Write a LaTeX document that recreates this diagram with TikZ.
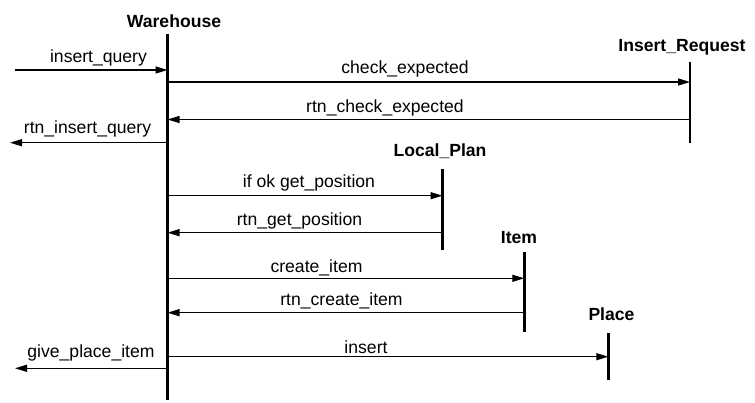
\documentclass[tikz,border=0pt]{standalone}
\usepackage{fontspec}
\setmainfont{Liberation Sans}
\usetikzlibrary{arrows.meta}
\begin{document}
\begin{tikzpicture}[x=1pt,y=-1pt,
  lifeline/.style={line width=2.8pt},
  msg/.style={line width=1.3pt,-{Triangle[length=12pt,width=7pt]}},
  lbl/.style={anchor=base,inner sep=0pt,font=\fontsize{17.6}{20}\selectfont},
  obj/.style={anchor=base,inner sep=0pt,font=\fontsize{17.6}{20}\selectfont\bfseries}]
\useasboundingbox[fill=white] (0,0) rectangle (755,403);

% lifeline ends
\coordinate (Wt) at (167.5,34);  \coordinate (Wb) at (167.5,400);
\coordinate (IRt) at (690,62);   \coordinate (IRb) at (690,143);
\coordinate (LPt) at (442.5,169);\coordinate (LPb) at (442.5,250);
\coordinate (Itt) at (524.3,252);\coordinate (Itb) at (524.3,332);
\coordinate (Plt) at (608.3,333);\coordinate (Plb) at (608.3,380);

% object names
\node[obj] (nW)  at (174,27.3)  {Warehouse};
\node[obj] (nIR) at (682,52)    {Insert\_Request};
\node[obj] (nLP) at (440,156.7) {Local\_Plan};
\node[obj] (nIt) at (519,243.3) {Item};
\node[obj] (nPl) at (611.5,320.7) {Place};

% lifelines
\draw[lifeline] (Wt) -- (Wb);
\draw[lifeline] (IRt) -- (IRb);
\draw[lifeline] (LPt) -- (LPb);
\draw[lifeline] (Itt) -- (Itb);
\draw[lifeline] (Plt) -- (Plb);

% message end points
\coordinate (e1) at (15,70);      \coordinate (w1) at (167.5,70);
\coordinate (w2) at (167.5,82);   \coordinate (r2) at (690,82);
\coordinate (r3) at (690,119.5);  \coordinate (w3) at (167.5,119.5);
\coordinate (w4) at (167.5,142.7);\coordinate (e4) at (10,142.7);
\coordinate (w5) at (167.5,195.7);\coordinate (l5) at (442.5,195.7);
\coordinate (l6) at (442.5,232.7);\coordinate (w6) at (167.5,232.7);
\coordinate (w7) at (167.5,278.3);\coordinate (i7) at (524.3,278.3);
\coordinate (i8) at (524.3,312.7);\coordinate (w8) at (167.5,312.7);
\coordinate (w9) at (167.5,356.7);\coordinate (p9) at (608.3,356.7);
\coordinate (w10) at (167.5,368.3);\coordinate (e10) at (15,368.3);

% messages
\draw[msg] (e1) -- (w1);
\draw[msg] (w2) -- (r2);
\draw[msg] (r3) -- (w3);
\draw[msg] (w4) -- (e4);
\draw[msg] (w5) -- (l5);
\draw[msg] (l6) -- (w6);
\draw[msg] (w7) -- (i7);
\draw[msg] (i8) -- (w8);
\draw[msg] (w9) -- (p9);
\draw[msg] (w10) -- (e10);

% message labels
\node[lbl] (t1)  at (98.5,63)    {insert\_query};
\node[lbl] (t2)  at (405,74)     {check\_expected};
\node[lbl] (t3)  at (385,113)    {rtn\_check\_expected};
\node[lbl] (t4)  at (87.5,133.5) {rtn\_insert\_query};
\node[lbl] (t5)  at (309,187.7)  {if ok get\_position};
\node[lbl] (t6)  at (299.5,225.7){rtn\_get\_position};
\node[lbl] (t7)  at (316.5,273)  {create\_item};
\node[lbl] (t8)  at (341.5,306)  {rtn\_create\_item};
\node[lbl] (t9)  at (366,353)    {insert};
\node[lbl] (t10) at (91,357.3)   {give\_place\_item};
\end{tikzpicture}
\end{document}
